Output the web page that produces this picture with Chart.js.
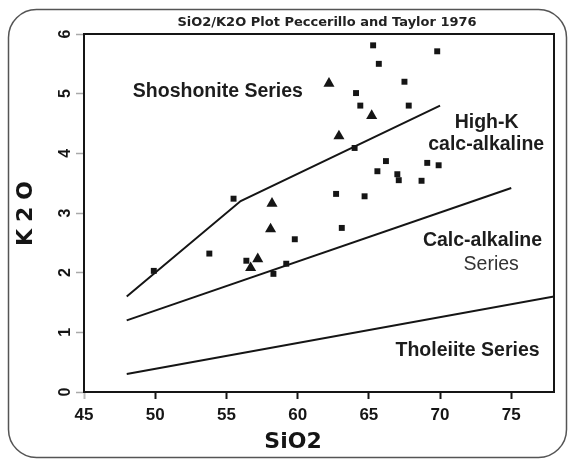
<!DOCTYPE html>
<html>
<head>
<meta charset="utf-8">
<script src="https://cdn.jsdelivr.net/npm/chart.js@4.4.0/dist/chart.umd.min.js"></script>
<style>
html,body{margin:0;padding:0;background:#fff;}
#wrap{width:568px;height:459px;position:relative;}
canvas{display:block;}
</style>
</head>
<body>
<div id="wrap"><canvas id="c" width="568" height="459"></canvas></div>
<script>
// ---------- data ----------
const chartTitle = "SiO2/K2O Plot Peccerillo and Taylor 1976";
const xAxisTitle = "SiO2";
const yAxisTitle = "K2O";
const xTickValues = [45, 50, 55, 60, 65, 70, 75];
const yTickValues = [0, 1, 2, 3, 4, 5, 6];

// samples drawn as squares
const squareSiO2 = [65.3, 69.8, 65.7, 67.5, 64.1, 64.4, 67.8, 64.0, 66.2, 69.1, 69.9, 65.6, 67.0, 67.1, 68.7,
                    62.7, 64.7, 63.1, 59.8, 59.2, 58.3, 56.4, 53.8, 55.5, 49.9];
const squareK2O  = [5.81, 5.71, 5.50, 5.20, 5.01, 4.80, 4.80, 4.09, 3.87, 3.84, 3.80, 3.70, 3.65, 3.55, 3.54,
                    3.32, 3.28, 2.75, 2.56, 2.15, 1.98, 2.20, 2.32, 3.24, 2.03];

// samples drawn as triangles
const triangleSiO2 = [62.2, 65.2, 62.9, 58.2, 58.1, 57.2, 56.7];
const triangleK2O  = [5.17, 4.63, 4.29, 3.16, 2.73, 2.23, 2.08];

// series boundary lines
const shoshoniteBoundarySiO2 = [48, 56, 70];
const shoshoniteBoundaryK2O  = [1.6, 3.2, 4.8];
const highKBoundarySiO2 = [48, 75];
const highKBoundaryK2O  = [1.2, 3.42];
const calcAlkBoundarySiO2 = [48, 78];
const calcAlkBoundaryK2O  = [0.3, 1.6];

// field labels
const fieldLabelTexts = ["Shoshonite Series", "High-K", "calc-alkaline", "Calc-alkaline", "Series", "Tholeiite Series"];
const fieldLabelSiO2  = [54.4, 73.27, 73.24, 72.98, 73.59, 71.93];
const fieldLabelK2O   = [5.03, 4.52, 4.14, 2.54, 2.13, 0.70];
const fieldLabelBold  = [true, true, true, true, false, true];

// ---------- build ----------
const zip = (xs, ys) => xs.map((x, i) => ({x: x, y: ys[i]}));
const INK = '#151515';

const lineStyle = {
  showLine: true, borderColor: INK, borderWidth: 2, pointRadius: 0,
  pointHoverRadius: 0, fill: false, tension: 0, backgroundColor: INK
};

const framePlugin = {
  id: 'frame',
  beforeDraw(chart) {
    const c = chart.ctx;
    c.save();
    c.fillStyle = '#fff';
    c.fillRect(0, 0, chart.width, chart.height);
    // rounded outer frame
    const x0 = 8.5, y0 = 9.5, x1 = 566.5, y1 = 457.5, r = 28;
    c.beginPath();
    c.moveTo(x0 + r, y0);
    c.lineTo(x1 - r, y0);
    c.arcTo(x1, y0, x1, y0 + r, r);
    c.lineTo(x1, y1 - r);
    c.arcTo(x1, y1, x1 - r, y1, r);
    c.lineTo(x0 + r, y1);
    c.arcTo(x0, y1, x0, y1 - r, r);
    c.lineTo(x0, y0 + r);
    c.arcTo(x0, y0, x0 + r, y0, r);
    c.closePath();
    c.strokeStyle = '#555';
    c.lineWidth = 1.5;
    c.stroke();
    c.restore();
  },
  afterDraw(chart) {
    const c = chart.ctx;
    const a = chart.chartArea;
    const xs = chart.scales.x, ys = chart.scales.y;
    c.save();
    // plot box (top/right sides)
    c.strokeStyle = INK;
    c.lineWidth = 2;
    c.beginPath();
    c.moveTo(a.left, a.top);
    c.lineTo(a.right, a.top);
    c.lineTo(a.right, a.bottom);
    c.stroke();

    // main title
    c.fillStyle = '#222';
    c.textAlign = 'center';
    c.textBaseline = 'middle';
    c.font = 'bold 13px "DejaVu Sans"';
    c.fillText(chartTitle, 327, 23);

    // x axis title
    c.fillStyle = INK;
    c.font = 'bold 22px "DejaVu Sans"';
    c.fillText(xAxisTitle, 293, 442);

    // y axis title (rotated)
    c.save();
    c.translate(26, 213);
    c.rotate(-Math.PI / 2);
    c.font = 'bold 22px "DejaVu Sans"';
    if ('letterSpacing' in c) c.letterSpacing = '7px';
    c.fillText(yAxisTitle, 3, 0);
    c.restore();

    // field labels
    fieldLabelTexts.forEach((t, i) => {
      c.font = (fieldLabelBold[i] ? 'bold ' : '') + '19.5px "Liberation Sans"';
      c.fillStyle = fieldLabelBold[i] ? '#1c1c1c' : '#333';
      c.fillText(t, xs.getPixelForValue(fieldLabelSiO2[i]), ys.getPixelForValue(fieldLabelK2O[i]));
    });
    c.restore();
  }
};

new Chart(document.getElementById('c'), {
  type: 'scatter',
  data: {
    datasets: [
      Object.assign({label: 'Shoshonite / High-K boundary', data: zip(shoshoniteBoundarySiO2, shoshoniteBoundaryK2O)}, lineStyle),
      Object.assign({label: 'High-K / Calc-alkaline boundary', data: zip(highKBoundarySiO2, highKBoundaryK2O)}, lineStyle),
      Object.assign({label: 'Calc-alkaline / Tholeiite boundary', data: zip(calcAlkBoundarySiO2, calcAlkBoundaryK2O)}, lineStyle),
      {
        label: 'Samples (squares)', data: zip(squareSiO2, squareK2O),
        pointStyle: 'rect', pointRadius: 4.2, pointHoverRadius: 4.2,
        backgroundColor: INK, borderColor: INK, borderWidth: 0
      },
      {
        label: 'Samples (triangles)', data: zip(triangleSiO2, triangleK2O),
        pointStyle: 'triangle', pointRadius: 6.4, pointHoverRadius: 6.4,
        backgroundColor: INK, borderColor: INK, borderWidth: 0
      }
    ]
  },
  options: {
    responsive: false,
    animation: false,
    devicePixelRatio: 1,
    events: [],
    layout: {padding: {left: 0, top: 34, right: 14, bottom: 0}},
    plugins: {legend: {display: false}, tooltip: {enabled: false}, title: {display: false}},
    scales: {
      x: {
        type: 'linear', min: 45, max: 78,
        afterFit(s) { s.height = 67; },
        afterBuildTicks(s) { s.ticks = xTickValues.map(v => ({value: v})); },
        ticks: {
          autoSkip: false, maxRotation: 0, minRotation: 0, padding: 6,
          color: INK, font: {family: '"Liberation Sans"', size: 17, weight: 'bold'}
        },
        grid: {
          drawOnChartArea: false, drawTicks: true, tickLength: 7, tickWidth: 2,
          tickColor: ctx => (ctx.tick && ctx.tick.value === 45) ? '#bbb' : INK
        },
        border: {display: true, color: INK, width: 2}
      },
      y: {
        type: 'linear', min: 0, max: 6,
        afterFit(s) { s.width = 84; },
        afterBuildTicks(s) { s.ticks = yTickValues.map(v => ({value: v})); },
        ticks: {
          autoSkip: false, minRotation: 90, maxRotation: 90, crossAlign: 'center', padding: 6,
          color: INK, font: {family: '"Liberation Sans"', size: 16, weight: 'bold'}
        },
        grid: {drawOnChartArea: false, drawTicks: true, tickLength: 8, tickWidth: 1.5, tickColor: '#aaa'},
        border: {display: true, color: INK, width: 2}
      }
    }
  },
  plugins: [framePlugin]
});
</script>
</body>
</html>
